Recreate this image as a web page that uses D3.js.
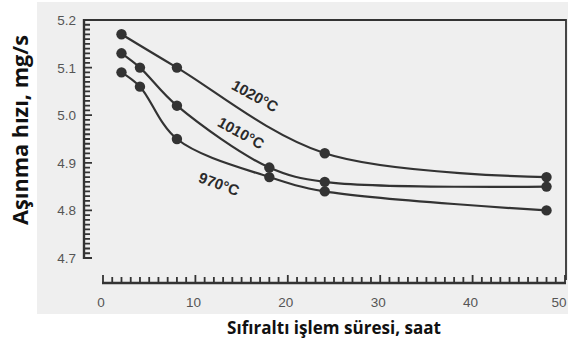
<!DOCTYPE html>
<html>
<head>
<meta charset="utf-8">
<script src="https://cdn.jsdelivr.net/npm/d3@7"></script>
<style>
  html, body { margin: 0; padding: 0; background: #fff; }
  svg { display: block; }
</style>
</head>
<body>
<svg id="chart" width="568" height="343"></svg>
<script>
// Sub-zero treatment time (hours)
const hours = [2, 4, 8, 18, 24, 48];
// Wear rate (mg/s) per austenitizing temperature
const series1020 = [5.17, null, 5.10, null, 4.92, 4.87];
const series1010 = [5.13, 5.10, 5.02, 4.89, 4.86, 4.85];
const series970  = [5.09, 5.06, 4.95, 4.87, 4.84, 4.80];
const seriesNames = ["1020°C", "1010°C", "970°C"];
const xTicks = [0, 10, 20, 30, 40, 50];
const yTicks = [4.7, 4.8, 4.9, 5.0, 5.1, 5.2];

const svg = d3.select("#chart");

// scanned-page background
svg.append("rect").attr("x", 37).attr("y", 2).attr("width", 531).attr("height", 312)
  .attr("fill", "#efefef");

const x = d3.scaleLinear().domain([0, 50]).range([103, 565]);
const y = d3.scaleLinear().domain([4.7, 5.2]).range([258, 20]);

const ink = "#333";
const yAxisX = 84;
const xAxisY = 283;

// frame: top and right edges
svg.append("path")
  .attr("d", `M${yAxisX},${y(5.2)} H${x(50) + 1} V${280}`)
  .attr("fill", "none").attr("stroke", ink).attr("stroke-width", 1.8);

// y axis with inward ticks every 0.01
const yMinor = d3.range(470, 521).map(v => v / 100);
const yAxisG = svg.append("g");
yAxisG.append("path")
  .attr("d", yMinor.map((v, i) => `M${yAxisX},${y(v)}h${i % 10 === 0 ? 8 : 6}`).join(""))
  .attr("fill", "none").attr("stroke", ink).attr("stroke-width", 1.8);
yAxisG.append("path")
  .attr("d", `M${yAxisX},${y(5.2) - 1}V${y(4.7) + 1}`)
  .attr("fill", "none").attr("stroke", ink).attr("stroke-width", 2.4);
yAxisG.selectAll("text").data(yTicks).join("text")
  .attr("x", yAxisX - 8).attr("y", d => y(d) + 5)
  .attr("text-anchor", "end")
  .attr("font-family", "Liberation Sans, Arial, sans-serif").attr("font-size", 13.5)
  .attr("fill", "#555").text(d => d.toFixed(1));

// x axis, detached below, ticks pointing up every hour
const xMinor = d3.range(0, 51);
const xAxisG = svg.append("g");
xAxisG.append("path")
  .attr("d", xMinor.map(v => `M${x(v)},${xAxisY}v${v % 10 === 0 ? -8 : -6}`).join(""))
  .attr("fill", "none").attr("stroke", ink).attr("stroke-width", 1.8);
xAxisG.append("path")
  .attr("d", `M${x(0) - 1},${xAxisY}H${x(50) + 1}`)
  .attr("fill", "none").attr("stroke", ink).attr("stroke-width", 2.4);
xAxisG.selectAll("text").data(xTicks).join("text")
  .attr("x", d => Math.min(x(d) - 2, 559)).attr("y", 307)
  .attr("text-anchor", "middle")
  .attr("font-family", "Liberation Sans, Arial, sans-serif").attr("font-size", 13.5)
  .attr("fill", "#555").text(d => d);

// curves and markers
const allSeries = [series1020, series1010, series970];
const line = d3.line()
  .x(d => x(d[0])).y(d => y(d[1]))
  .curve(d3.curveCatmullRom.alpha(0.5));

allSeries.forEach(vals => {
  const pts = hours.map((h, i) => [h, vals[i]]).filter(d => d[1] != null);
  svg.append("path").datum(pts).attr("d", line)
    .attr("fill", "none").attr("stroke", ink).attr("stroke-width", 2.2);
  svg.append("g").selectAll("circle").data(pts).join("circle")
    .attr("cx", d => x(d[0])).attr("cy", d => y(d[1])).attr("r", 5.2)
    .attr("fill", "#333");
});

// curve labels
const labelPos = [
  { t: seriesNames[0], cx: 255, cy: 96, a: 29 },
  { t: seriesNames[1], cx: 241, cy: 133, a: 29 },
  { t: seriesNames[2], cx: 219, cy: 184, a: 20 }
];
svg.append("g").selectAll("text").data(labelPos).join("text")
  .attr("transform", d => `translate(${d.cx},${d.cy}) rotate(${d.a})`)
  .attr("text-anchor", "middle").attr("dy", "0.35em")
  .attr("font-family", "Liberation Sans, Arial, sans-serif").attr("font-weight", "bold")
  .attr("font-size", 15).attr("fill", "#2a2a2a").text(d => d.t);

// axis titles, sized to their target widths
function fitText(sel, target) {
  const w = sel.node().getComputedTextLength();
  const fs = parseFloat(sel.attr("font-size"));
  sel.attr("font-size", (fs * target / w).toFixed(2));
}
svg.append("rect").attr("x", 213).attr("y", 314).attr("width", 238).attr("height", 29).attr("fill", "#fff");
const xTitle = svg.append("text").attr("x", 334).attr("y", 334)
  .attr("text-anchor", "middle")
  .attr("font-family", "Open Sans, sans-serif").attr("font-weight", "bold")
  .attr("font-size", 16).attr("fill", "#111")
  .text("Sıfıraltı işlem süresi, saat");
fitText(xTitle, 214);
const yTitle = svg.append("text").attr("transform", "translate(28,130) rotate(-90)")
  .attr("text-anchor", "middle")
  .attr("font-family", "Open Sans, sans-serif").attr("font-weight", "bold")
  .attr("font-size", 16).attr("fill", "#111")
  .text("Aşınma hızı, mg/s");
fitText(yTitle, 190);
</script>
</body>
</html>
